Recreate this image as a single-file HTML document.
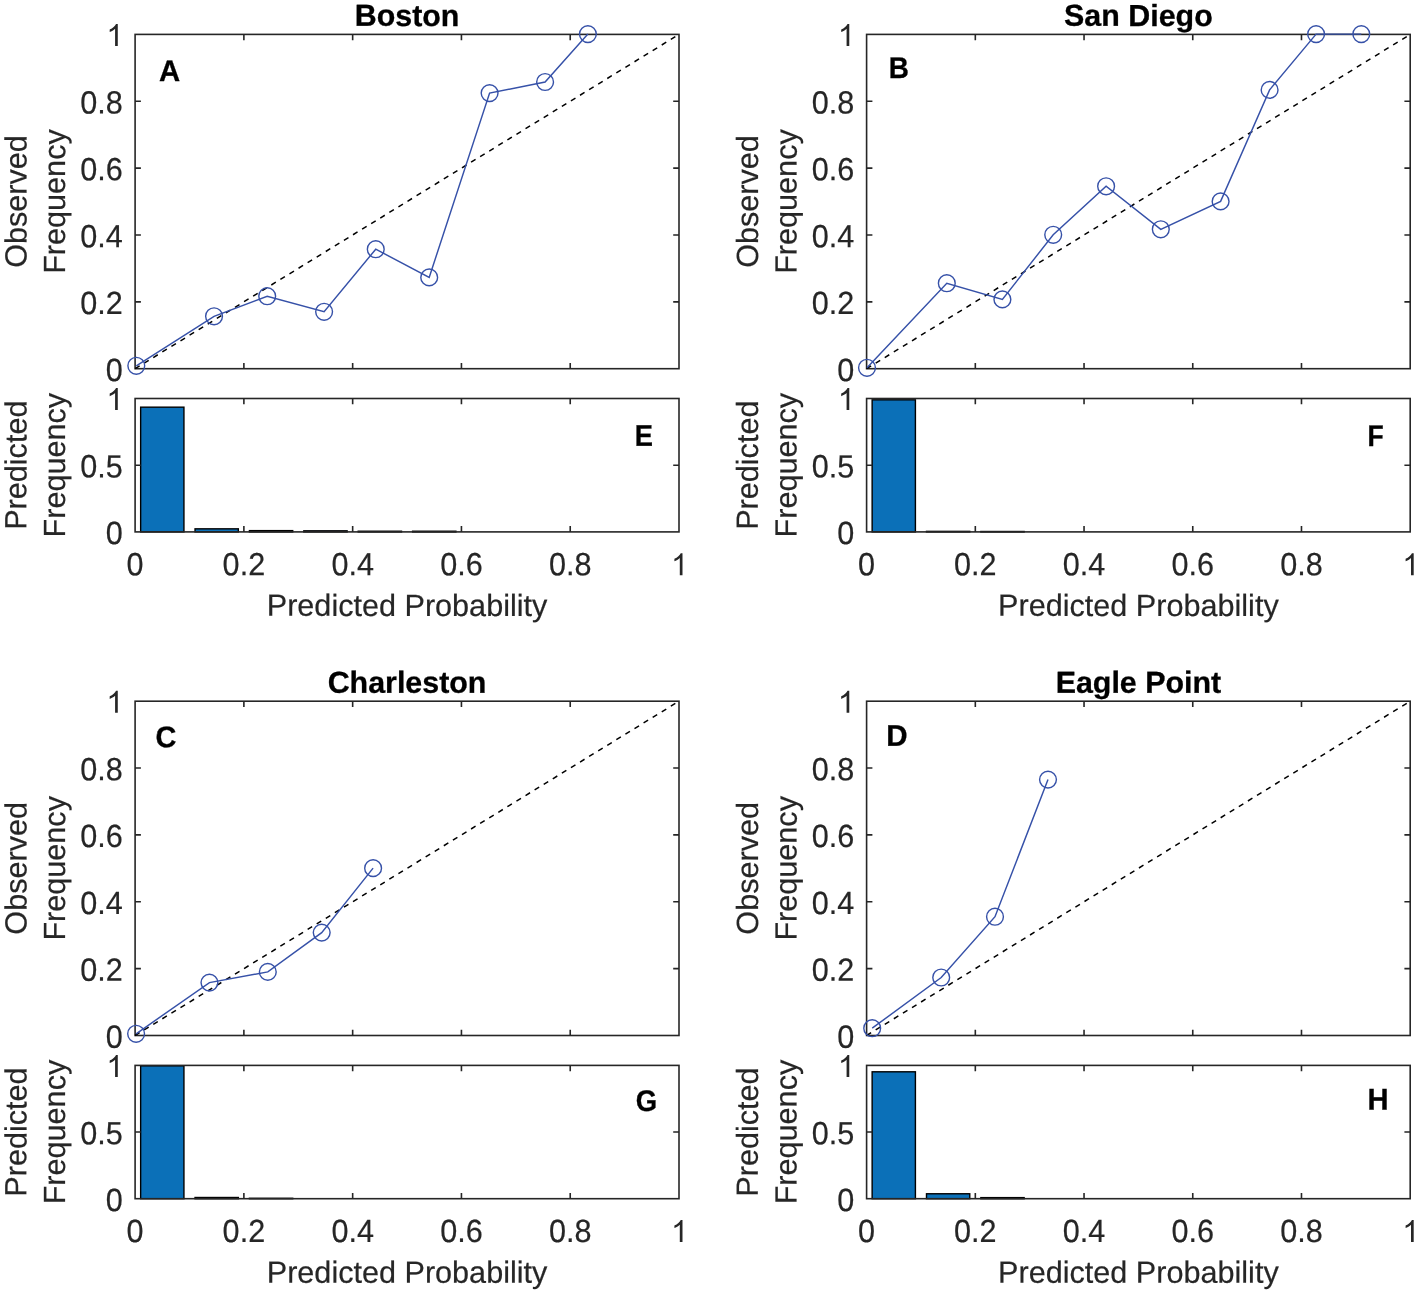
<!DOCTYPE html>
<html><head><meta charset="utf-8"><title>Calibration plots</title><style>
html,body{margin:0;padding:0;background:#fff;}
svg{display:block;will-change:transform;}
text{font-family:"Liberation Sans",sans-serif;text-rendering:geometricPrecision;}
</style></head><body>
<svg width="1417" height="1293" viewBox="0 0 1417 1293">
<rect width="1417" height="1293" fill="#fff"/>
<rect x="135.1" y="34.4" width="543.90" height="334.30" fill="none" stroke="#262626" stroke-width="1.6"/>
<path d="M243.88 368.70V362.90M243.88 34.40V40.20M352.66 368.70V362.90M352.66 34.40V40.20M461.44 368.70V362.90M461.44 34.40V40.20M570.22 368.70V362.90M570.22 34.40V40.20M135.10 301.84H140.90M679.00 301.84H673.20M135.10 234.98H140.90M679.00 234.98H673.20M135.10 168.12H140.90M679.00 168.12H673.20M135.10 101.26H140.90M679.00 101.26H673.20" stroke="#262626" stroke-width="1.6" fill="none"/>
<line x1="135.1" y1="368.7" x2="679.0" y2="34.4" stroke="#000" stroke-width="1.5" stroke-dasharray="5.3 5.358"/>
<polyline points="136.3,365.8 214.05,316.3 267.2,296.2 324.1,311.8 375.75,249.2 429.2,277.4 489.6,93.1 545.1,82.0 587.9,34.1" fill="none" stroke="#3651a8" stroke-width="1.45"/>
<circle cx="136.3" cy="365.8" r="8.4" fill="none" stroke="#3651a8" stroke-width="1.4"/>
<circle cx="214.05" cy="316.3" r="8.4" fill="none" stroke="#3651a8" stroke-width="1.4"/>
<circle cx="267.2" cy="296.2" r="8.4" fill="none" stroke="#3651a8" stroke-width="1.4"/>
<circle cx="324.1" cy="311.8" r="8.4" fill="none" stroke="#3651a8" stroke-width="1.4"/>
<circle cx="375.75" cy="249.2" r="8.4" fill="none" stroke="#3651a8" stroke-width="1.4"/>
<circle cx="429.2" cy="277.4" r="8.4" fill="none" stroke="#3651a8" stroke-width="1.4"/>
<circle cx="489.6" cy="93.1" r="8.4" fill="none" stroke="#3651a8" stroke-width="1.4"/>
<circle cx="545.1" cy="82.0" r="8.4" fill="none" stroke="#3651a8" stroke-width="1.4"/>
<circle cx="587.9" cy="34.1" r="8.4" fill="none" stroke="#3651a8" stroke-width="1.4"/>
<rect x="140.65" y="407.17" width="43.29" height="124.73" fill="#0b70b8" stroke="#000" stroke-width="1.4"/>
<rect x="195.04" y="528.83" width="43.29" height="3.07" fill="#0b70b8" stroke="#000" stroke-width="1.4"/>
<rect x="249.43" y="530.63" width="43.29" height="1.27" fill="#0b70b8" stroke="#000" stroke-width="1.4"/>
<rect x="303.82" y="530.83" width="43.29" height="1.07" fill="#0b70b8" stroke="#000" stroke-width="1.4"/>
<rect x="358.21" y="531.23" width="43.29" height="0.67" fill="#0b70b8" stroke="#000" stroke-width="1.4"/>
<rect x="412.60" y="531.23" width="43.29" height="0.67" fill="#0b70b8" stroke="#000" stroke-width="1.4"/>
<rect x="135.1" y="398.5" width="543.90" height="133.40" fill="none" stroke="#262626" stroke-width="1.6"/>
<path d="M243.88 531.90V526.10M243.88 398.50V404.30M352.66 531.90V526.10M352.66 398.50V404.30M461.44 531.90V526.10M461.44 398.50V404.30M570.22 531.90V526.10M570.22 398.50V404.30M135.10 465.20H140.90M679.00 465.20H673.20" stroke="#262626" stroke-width="1.6" fill="none"/>
<g font-size="30.6" fill="#262626" stroke="#262626" stroke-width="0.2">
<text transform="translate(122.80,380.90) rotate(0.05) scale(1,1.05)" text-anchor="end">0</text>
<text transform="translate(122.80,314.04) rotate(0.05) scale(1,1.05)" text-anchor="end">0.2</text>
<text transform="translate(122.80,247.18) rotate(0.05) scale(1,1.05)" text-anchor="end">0.4</text>
<text transform="translate(122.80,180.32) rotate(0.05) scale(1,1.05)" text-anchor="end">0.6</text>
<text transform="translate(122.80,113.46) rotate(0.05) scale(1,1.05)" text-anchor="end">0.8</text>
<path d="M763 0L583 0L583 1147Q518 1085 412 1023Q306 961 222 930L222 1104Q373 1175 486 1276Q599 1377 646 1472L763 1472Z" transform="translate(106.38,46.00) scale(0.014941,-0.014941)" fill="#262626"/>
<text transform="translate(122.80,544.10) rotate(0.05) scale(1,1.05)" text-anchor="end">0</text>
<text transform="translate(122.80,477.40) rotate(0.05) scale(1,1.05)" text-anchor="end">0.5</text>
<path d="M763 0L583 0L583 1147Q518 1085 412 1023Q306 961 222 930L222 1104Q373 1175 486 1276Q599 1377 646 1472L763 1472Z" transform="translate(106.38,410.10) scale(0.014941,-0.014941)" fill="#262626"/>
<text transform="translate(135.10,575.20) rotate(0.05) scale(1,1.05)" text-anchor="middle">0</text>
<text transform="translate(243.88,575.20) rotate(0.05) scale(1,1.05)" text-anchor="middle">0.2</text>
<text transform="translate(352.66,575.20) rotate(0.05) scale(1,1.05)" text-anchor="middle">0.4</text>
<text transform="translate(461.44,575.20) rotate(0.05) scale(1,1.05)" text-anchor="middle">0.6</text>
<text transform="translate(570.22,575.20) rotate(0.05) scale(1,1.05)" text-anchor="middle">0.8</text>
<path d="M763 0L583 0L583 1147Q518 1085 412 1023Q306 961 222 930L222 1104Q373 1175 486 1276Q599 1377 646 1472L763 1472Z" transform="translate(671.09,575.20) scale(0.014941,-0.014941)" fill="#262626"/>
<text transform="translate(407.05,615.95) rotate(0.05)" text-anchor="middle">Predicted Probability</text>
<text transform="translate(26.50,201.55) rotate(-89.95)" text-anchor="middle">Observed</text>
<text transform="translate(65.10,201.55) rotate(-89.95)" text-anchor="middle">Frequency</text>
<text transform="translate(26.40,465.20) rotate(-89.95)" text-anchor="middle">Predicted</text>
<text transform="translate(65.10,465.20) rotate(-89.95)" text-anchor="middle">Frequency</text>
</g>
<g font-size="30.6" font-weight="bold" fill="#000" stroke="#000" stroke-width="0.3">
<text transform="translate(407.05,25.90) rotate(0.05)" text-anchor="middle" font-size="30.4">Boston</text>
<text transform="translate(159.11,81.00) rotate(0.05) scale(0.98,1)" font-size="29.9">A</text>
<text transform="translate(634.73,445.77) rotate(0.05) scale(0.912,1)" font-size="29.9">E</text>
</g>
<rect x="866.6" y="34.4" width="543.60" height="334.30" fill="none" stroke="#262626" stroke-width="1.6"/>
<path d="M975.32 368.70V362.90M975.32 34.40V40.20M1084.04 368.70V362.90M1084.04 34.40V40.20M1192.76 368.70V362.90M1192.76 34.40V40.20M1301.48 368.70V362.90M1301.48 34.40V40.20M866.60 301.84H872.40M1410.20 301.84H1404.40M866.60 234.98H872.40M1410.20 234.98H1404.40M866.60 168.12H872.40M1410.20 168.12H1404.40M866.60 101.26H872.40M1410.20 101.26H1404.40" stroke="#262626" stroke-width="1.6" fill="none"/>
<line x1="866.6" y1="368.7" x2="1410.2" y2="34.4" stroke="#000" stroke-width="1.5" stroke-dasharray="5.3 5.358"/>
<polyline points="867.0,367.8 946.8,283.2 1002.4,299.4 1053.2,234.8 1106.1,186.3 1160.8,229.3 1220.6,201.4 1269.6,89.9 1316.1,34.1 1361.3,34.1" fill="none" stroke="#3651a8" stroke-width="1.45"/>
<circle cx="867.0" cy="367.8" r="8.4" fill="none" stroke="#3651a8" stroke-width="1.4"/>
<circle cx="946.8" cy="283.2" r="8.4" fill="none" stroke="#3651a8" stroke-width="1.4"/>
<circle cx="1002.4" cy="299.4" r="8.4" fill="none" stroke="#3651a8" stroke-width="1.4"/>
<circle cx="1053.2" cy="234.8" r="8.4" fill="none" stroke="#3651a8" stroke-width="1.4"/>
<circle cx="1106.1" cy="186.3" r="8.4" fill="none" stroke="#3651a8" stroke-width="1.4"/>
<circle cx="1160.8" cy="229.3" r="8.4" fill="none" stroke="#3651a8" stroke-width="1.4"/>
<circle cx="1220.6" cy="201.4" r="8.4" fill="none" stroke="#3651a8" stroke-width="1.4"/>
<circle cx="1269.6" cy="89.9" r="8.4" fill="none" stroke="#3651a8" stroke-width="1.4"/>
<circle cx="1316.1" cy="34.1" r="8.4" fill="none" stroke="#3651a8" stroke-width="1.4"/>
<circle cx="1361.3" cy="34.1" r="8.4" fill="none" stroke="#3651a8" stroke-width="1.4"/>
<rect x="872.14" y="399.83" width="43.27" height="132.07" fill="#0b70b8" stroke="#000" stroke-width="1.4"/>
<rect x="926.50" y="531.37" width="43.27" height="0.53" fill="#0b70b8" stroke="#000" stroke-width="1.4"/>
<rect x="980.86" y="531.50" width="43.27" height="0.40" fill="#0b70b8" stroke="#000" stroke-width="1.4"/>
<rect x="866.6" y="398.5" width="543.60" height="133.40" fill="none" stroke="#262626" stroke-width="1.6"/>
<path d="M975.32 531.90V526.10M975.32 398.50V404.30M1084.04 531.90V526.10M1084.04 398.50V404.30M1192.76 531.90V526.10M1192.76 398.50V404.30M1301.48 531.90V526.10M1301.48 398.50V404.30M866.60 465.20H872.40M1410.20 465.20H1404.40" stroke="#262626" stroke-width="1.6" fill="none"/>
<g font-size="30.6" fill="#262626" stroke="#262626" stroke-width="0.2">
<text transform="translate(854.30,380.90) rotate(0.05) scale(1,1.05)" text-anchor="end">0</text>
<text transform="translate(854.30,314.04) rotate(0.05) scale(1,1.05)" text-anchor="end">0.2</text>
<text transform="translate(854.30,247.18) rotate(0.05) scale(1,1.05)" text-anchor="end">0.4</text>
<text transform="translate(854.30,180.32) rotate(0.05) scale(1,1.05)" text-anchor="end">0.6</text>
<text transform="translate(854.30,113.46) rotate(0.05) scale(1,1.05)" text-anchor="end">0.8</text>
<path d="M763 0L583 0L583 1147Q518 1085 412 1023Q306 961 222 930L222 1104Q373 1175 486 1276Q599 1377 646 1472L763 1472Z" transform="translate(837.88,46.00) scale(0.014941,-0.014941)" fill="#262626"/>
<text transform="translate(854.30,544.10) rotate(0.05) scale(1,1.05)" text-anchor="end">0</text>
<text transform="translate(854.30,477.40) rotate(0.05) scale(1,1.05)" text-anchor="end">0.5</text>
<path d="M763 0L583 0L583 1147Q518 1085 412 1023Q306 961 222 930L222 1104Q373 1175 486 1276Q599 1377 646 1472L763 1472Z" transform="translate(837.88,410.10) scale(0.014941,-0.014941)" fill="#262626"/>
<text transform="translate(866.60,575.20) rotate(0.05) scale(1,1.05)" text-anchor="middle">0</text>
<text transform="translate(975.32,575.20) rotate(0.05) scale(1,1.05)" text-anchor="middle">0.2</text>
<text transform="translate(1084.04,575.20) rotate(0.05) scale(1,1.05)" text-anchor="middle">0.4</text>
<text transform="translate(1192.76,575.20) rotate(0.05) scale(1,1.05)" text-anchor="middle">0.6</text>
<text transform="translate(1301.48,575.20) rotate(0.05) scale(1,1.05)" text-anchor="middle">0.8</text>
<path d="M763 0L583 0L583 1147Q518 1085 412 1023Q306 961 222 930L222 1104Q373 1175 486 1276Q599 1377 646 1472L763 1472Z" transform="translate(1402.29,575.20) scale(0.014941,-0.014941)" fill="#262626"/>
<text transform="translate(1138.40,615.95) rotate(0.05)" text-anchor="middle">Predicted Probability</text>
<text transform="translate(758.00,201.55) rotate(-89.95)" text-anchor="middle">Observed</text>
<text transform="translate(796.60,201.55) rotate(-89.95)" text-anchor="middle">Frequency</text>
<text transform="translate(757.90,465.20) rotate(-89.95)" text-anchor="middle">Predicted</text>
<text transform="translate(796.60,465.20) rotate(-89.95)" text-anchor="middle">Frequency</text>
</g>
<g font-size="30.6" font-weight="bold" fill="#000" stroke="#000" stroke-width="0.3">
<text transform="translate(1138.40,25.90) rotate(0.05)" text-anchor="middle" font-size="30.4">San Diego</text>
<text transform="translate(888.73,78.00) rotate(0.05) scale(0.933,1)" font-size="29.9">B</text>
<text transform="translate(1367.43,445.90) rotate(0.05) scale(0.886,1)" font-size="29.9">F</text>
</g>
<rect x="135.1" y="701.2" width="543.90" height="334.30" fill="none" stroke="#262626" stroke-width="1.6"/>
<path d="M243.88 1035.50V1029.70M243.88 701.20V707.00M352.66 1035.50V1029.70M352.66 701.20V707.00M461.44 1035.50V1029.70M461.44 701.20V707.00M570.22 1035.50V1029.70M570.22 701.20V707.00M135.10 968.64H140.90M679.00 968.64H673.20M135.10 901.78H140.90M679.00 901.78H673.20M135.10 834.92H140.90M679.00 834.92H673.20M135.10 768.06H140.90M679.00 768.06H673.20" stroke="#262626" stroke-width="1.6" fill="none"/>
<line x1="135.1" y1="1035.5" x2="679.0" y2="701.2" stroke="#000" stroke-width="1.5" stroke-dasharray="5.3 5.358"/>
<polyline points="136.1,1033.8 209.45,982.6 267.8,971.9 321.7,932.6 373.1,868.15" fill="none" stroke="#3651a8" stroke-width="1.45"/>
<circle cx="136.1" cy="1033.8" r="8.4" fill="none" stroke="#3651a8" stroke-width="1.4"/>
<circle cx="209.45" cy="982.6" r="8.4" fill="none" stroke="#3651a8" stroke-width="1.4"/>
<circle cx="267.8" cy="971.9" r="8.4" fill="none" stroke="#3651a8" stroke-width="1.4"/>
<circle cx="321.7" cy="932.6" r="8.4" fill="none" stroke="#3651a8" stroke-width="1.4"/>
<circle cx="373.1" cy="868.15" r="8.4" fill="none" stroke="#3651a8" stroke-width="1.4"/>
<rect x="140.65" y="1065.80" width="43.29" height="132.90" fill="#0b70b8" stroke="#000" stroke-width="1.4"/>
<rect x="195.04" y="1197.50" width="43.29" height="1.20" fill="#0b70b8" stroke="#000" stroke-width="1.4"/>
<rect x="249.43" y="1198.30" width="43.29" height="0.40" fill="#0b70b8" stroke="#000" stroke-width="1.4"/>
<rect x="135.1" y="1065.4" width="543.90" height="133.30" fill="none" stroke="#262626" stroke-width="1.6"/>
<path d="M243.88 1198.70V1192.90M243.88 1065.40V1071.20M352.66 1198.70V1192.90M352.66 1065.40V1071.20M461.44 1198.70V1192.90M461.44 1065.40V1071.20M570.22 1198.70V1192.90M570.22 1065.40V1071.20M135.10 1132.05H140.90M679.00 1132.05H673.20" stroke="#262626" stroke-width="1.6" fill="none"/>
<g font-size="30.6" fill="#262626" stroke="#262626" stroke-width="0.2">
<text transform="translate(122.80,1047.70) rotate(0.05) scale(1,1.05)" text-anchor="end">0</text>
<text transform="translate(122.80,980.84) rotate(0.05) scale(1,1.05)" text-anchor="end">0.2</text>
<text transform="translate(122.80,913.98) rotate(0.05) scale(1,1.05)" text-anchor="end">0.4</text>
<text transform="translate(122.80,847.12) rotate(0.05) scale(1,1.05)" text-anchor="end">0.6</text>
<text transform="translate(122.80,780.26) rotate(0.05) scale(1,1.05)" text-anchor="end">0.8</text>
<path d="M763 0L583 0L583 1147Q518 1085 412 1023Q306 961 222 930L222 1104Q373 1175 486 1276Q599 1377 646 1472L763 1472Z" transform="translate(106.38,712.80) scale(0.014941,-0.014941)" fill="#262626"/>
<text transform="translate(122.80,1210.90) rotate(0.05) scale(1,1.05)" text-anchor="end">0</text>
<text transform="translate(122.80,1144.25) rotate(0.05) scale(1,1.05)" text-anchor="end">0.5</text>
<path d="M763 0L583 0L583 1147Q518 1085 412 1023Q306 961 222 930L222 1104Q373 1175 486 1276Q599 1377 646 1472L763 1472Z" transform="translate(106.38,1077.00) scale(0.014941,-0.014941)" fill="#262626"/>
<text transform="translate(135.10,1242.00) rotate(0.05) scale(1,1.05)" text-anchor="middle">0</text>
<text transform="translate(243.88,1242.00) rotate(0.05) scale(1,1.05)" text-anchor="middle">0.2</text>
<text transform="translate(352.66,1242.00) rotate(0.05) scale(1,1.05)" text-anchor="middle">0.4</text>
<text transform="translate(461.44,1242.00) rotate(0.05) scale(1,1.05)" text-anchor="middle">0.6</text>
<text transform="translate(570.22,1242.00) rotate(0.05) scale(1,1.05)" text-anchor="middle">0.8</text>
<path d="M763 0L583 0L583 1147Q518 1085 412 1023Q306 961 222 930L222 1104Q373 1175 486 1276Q599 1377 646 1472L763 1472Z" transform="translate(671.09,1242.00) scale(0.014941,-0.014941)" fill="#262626"/>
<text transform="translate(407.05,1282.75) rotate(0.05)" text-anchor="middle">Predicted Probability</text>
<text transform="translate(26.50,868.35) rotate(-89.95)" text-anchor="middle">Observed</text>
<text transform="translate(65.10,868.35) rotate(-89.95)" text-anchor="middle">Frequency</text>
<text transform="translate(26.40,1132.05) rotate(-89.95)" text-anchor="middle">Predicted</text>
<text transform="translate(65.10,1132.05) rotate(-89.95)" text-anchor="middle">Frequency</text>
</g>
<g font-size="30.6" font-weight="bold" fill="#000" stroke="#000" stroke-width="0.3">
<text transform="translate(407.05,692.70) rotate(0.05)" text-anchor="middle" font-size="30.4">Charleston</text>
<text transform="translate(155.42,747.30) rotate(0.05) scale(0.965,1)" font-size="29.9">C</text>
<text transform="translate(635.87,1111.10) rotate(0.05) scale(0.92,1)" font-size="29.9">G</text>
</g>
<rect x="866.6" y="701.2" width="543.60" height="334.30" fill="none" stroke="#262626" stroke-width="1.6"/>
<path d="M975.32 1035.50V1029.70M975.32 701.20V707.00M1084.04 1035.50V1029.70M1084.04 701.20V707.00M1192.76 1035.50V1029.70M1192.76 701.20V707.00M1301.48 1035.50V1029.70M1301.48 701.20V707.00M866.60 968.64H872.40M1410.20 968.64H1404.40M866.60 901.78H872.40M1410.20 901.78H1404.40M866.60 834.92H872.40M1410.20 834.92H1404.40M866.60 768.06H872.40M1410.20 768.06H1404.40" stroke="#262626" stroke-width="1.6" fill="none"/>
<line x1="866.6" y1="1035.5" x2="1410.2" y2="701.2" stroke="#000" stroke-width="1.5" stroke-dasharray="5.3 5.358"/>
<polyline points="872.2,1028.2 941.2,977.5 995.0,916.7 1048.0,779.6" fill="none" stroke="#3651a8" stroke-width="1.45"/>
<circle cx="872.2" cy="1028.2" r="8.4" fill="none" stroke="#3651a8" stroke-width="1.4"/>
<circle cx="941.2" cy="977.5" r="8.4" fill="none" stroke="#3651a8" stroke-width="1.4"/>
<circle cx="995.0" cy="916.7" r="8.4" fill="none" stroke="#3651a8" stroke-width="1.4"/>
<circle cx="1048.0" cy="779.6" r="8.4" fill="none" stroke="#3651a8" stroke-width="1.4"/>
<rect x="872.14" y="1071.80" width="43.27" height="126.90" fill="#0b70b8" stroke="#000" stroke-width="1.4"/>
<rect x="926.50" y="1193.77" width="43.27" height="4.93" fill="#0b70b8" stroke="#000" stroke-width="1.4"/>
<rect x="980.86" y="1197.63" width="43.27" height="1.07" fill="#0b70b8" stroke="#000" stroke-width="1.4"/>
<rect x="866.6" y="1065.4" width="543.60" height="133.30" fill="none" stroke="#262626" stroke-width="1.6"/>
<path d="M975.32 1198.70V1192.90M975.32 1065.40V1071.20M1084.04 1198.70V1192.90M1084.04 1065.40V1071.20M1192.76 1198.70V1192.90M1192.76 1065.40V1071.20M1301.48 1198.70V1192.90M1301.48 1065.40V1071.20M866.60 1132.05H872.40M1410.20 1132.05H1404.40" stroke="#262626" stroke-width="1.6" fill="none"/>
<g font-size="30.6" fill="#262626" stroke="#262626" stroke-width="0.2">
<text transform="translate(854.30,1047.70) rotate(0.05) scale(1,1.05)" text-anchor="end">0</text>
<text transform="translate(854.30,980.84) rotate(0.05) scale(1,1.05)" text-anchor="end">0.2</text>
<text transform="translate(854.30,913.98) rotate(0.05) scale(1,1.05)" text-anchor="end">0.4</text>
<text transform="translate(854.30,847.12) rotate(0.05) scale(1,1.05)" text-anchor="end">0.6</text>
<text transform="translate(854.30,780.26) rotate(0.05) scale(1,1.05)" text-anchor="end">0.8</text>
<path d="M763 0L583 0L583 1147Q518 1085 412 1023Q306 961 222 930L222 1104Q373 1175 486 1276Q599 1377 646 1472L763 1472Z" transform="translate(837.88,712.80) scale(0.014941,-0.014941)" fill="#262626"/>
<text transform="translate(854.30,1210.90) rotate(0.05) scale(1,1.05)" text-anchor="end">0</text>
<text transform="translate(854.30,1144.25) rotate(0.05) scale(1,1.05)" text-anchor="end">0.5</text>
<path d="M763 0L583 0L583 1147Q518 1085 412 1023Q306 961 222 930L222 1104Q373 1175 486 1276Q599 1377 646 1472L763 1472Z" transform="translate(837.88,1077.00) scale(0.014941,-0.014941)" fill="#262626"/>
<text transform="translate(866.60,1242.00) rotate(0.05) scale(1,1.05)" text-anchor="middle">0</text>
<text transform="translate(975.32,1242.00) rotate(0.05) scale(1,1.05)" text-anchor="middle">0.2</text>
<text transform="translate(1084.04,1242.00) rotate(0.05) scale(1,1.05)" text-anchor="middle">0.4</text>
<text transform="translate(1192.76,1242.00) rotate(0.05) scale(1,1.05)" text-anchor="middle">0.6</text>
<text transform="translate(1301.48,1242.00) rotate(0.05) scale(1,1.05)" text-anchor="middle">0.8</text>
<path d="M763 0L583 0L583 1147Q518 1085 412 1023Q306 961 222 930L222 1104Q373 1175 486 1276Q599 1377 646 1472L763 1472Z" transform="translate(1402.29,1242.00) scale(0.014941,-0.014941)" fill="#262626"/>
<text transform="translate(1138.40,1282.75) rotate(0.05)" text-anchor="middle">Predicted Probability</text>
<text transform="translate(758.00,868.35) rotate(-89.95)" text-anchor="middle">Observed</text>
<text transform="translate(796.60,868.35) rotate(-89.95)" text-anchor="middle">Frequency</text>
<text transform="translate(757.90,1132.05) rotate(-89.95)" text-anchor="middle">Predicted</text>
<text transform="translate(796.60,1132.05) rotate(-89.95)" text-anchor="middle">Frequency</text>
</g>
<g font-size="30.6" font-weight="bold" fill="#000" stroke="#000" stroke-width="0.3">
<text transform="translate(1138.40,692.70) rotate(0.05)" text-anchor="middle" font-size="30.4">Eagle Point</text>
<text transform="translate(886.32,745.65) rotate(0.05) scale(0.988,1)" font-size="29.9">D</text>
<text transform="translate(1367.45,1109.60) rotate(0.05) scale(0.976,1)" font-size="29.9">H</text>
</g>
</svg>
</body></html>
